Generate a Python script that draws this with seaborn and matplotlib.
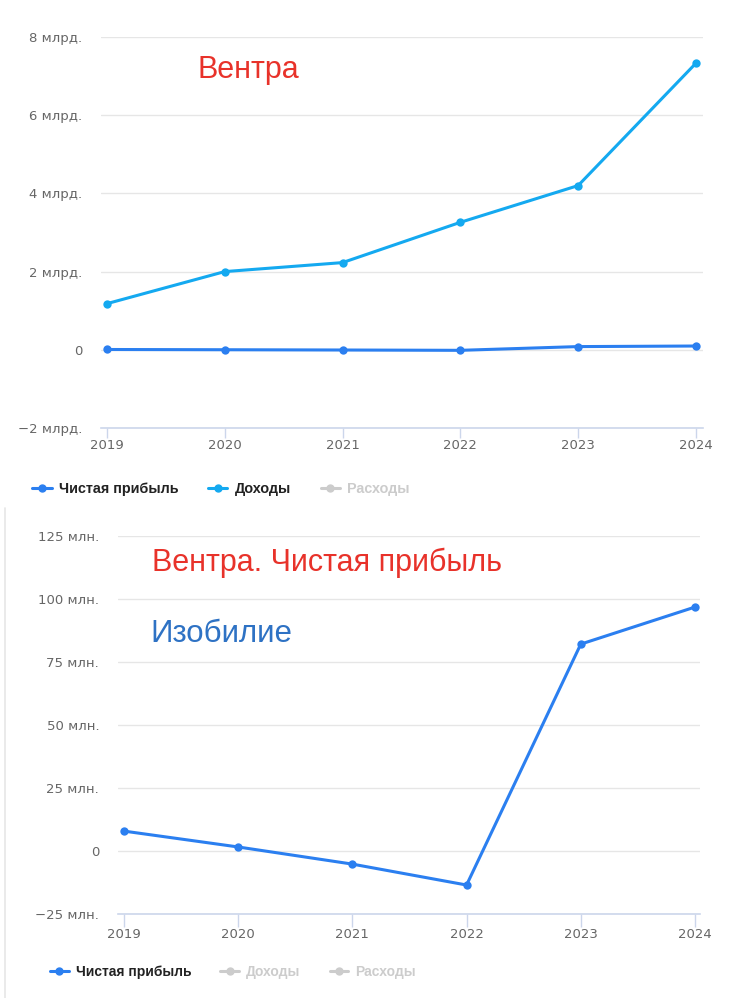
import numpy as np
import pandas as pd
import matplotlib
matplotlib.use("Agg")
import matplotlib.pyplot as plt
from matplotlib.lines import Line2D
import seaborn as sns

# data
years = [2019, 2020, 2021, 2022, 2023, 2024]
revenue_bn = [1.18, 2.00, 2.23, 3.26, 4.20, 7.33]        # Доходы, млрд
net_profit_mn = [7.9, 1.6, -5.2, -13.5, 82.1, 96.8]       # Чистая прибыль, млн
net_profit_bn = [v / 1000 for v in net_profit_mn]

top_ticks = [-2, 0, 2, 4, 6, 8]
top_labels = ["\u22122 млрд.", "0", "2 млрд.", "4 млрд.", "6 млрд.", "8 млрд."]
bot_ticks = [-25, 0, 25, 50, 75, 100, 125]
bot_labels = ["\u221225 млн.", "0", "25 млн.", "50 млн.", "75 млн.", "100 млн.", "125 млн."]

legend_names = ["Чистая прибыль", "Доходы", "Расходы"]

c_profit = "#2b7ff0"
c_rev = "#14a9f0"
c_off = "#cccccc"
c_grid = "#e6e6e6"
c_axis = "#ccd6eb"
c_tick = "#666666"

sns.set_theme(style="white")
plt.rcParams["font.family"] = ["DejaVu Sans"]

W, H = 736, 998
fig = plt.figure(figsize=(W / 100, H / 100), dpi=100)
fig.patch.set_facecolor("white")


def px_axes(l, r, t, b):
    return fig.add_axes([l / W, 1 - b / H, (r - l) / W, (b - t) / H])


def style(ax, ticks, labels, ylim, xlim, tick_len, fsize):
    ax.set_ylim(*ylim)
    ax.set_xlim(*xlim)
    ax.set_yticks(ticks)
    ax.set_yticklabels(labels)
    ax.set_xticks(years)
    ax.set_xticklabels([str(y) for y in years])
    for s in ["top", "right", "left"]:
        ax.spines[s].set_visible(False)
    ax.spines["bottom"].set_color(c_axis)
    ax.spines["bottom"].set_linewidth(1.2)
    ax.grid(axis="y", color=c_grid, linewidth=1.0)
    ax.grid(axis="x", visible=False)
    ax.tick_params(axis="y", length=0, pad=13.5, labelsize=fsize, labelcolor=c_tick)
    ax.tick_params(axis="x", length=tick_len, width=1.0, color=c_axis, pad=1,
                   labelsize=fsize, labelcolor=c_tick, bottom=True, direction="out")
    ax.set_xlabel("")
    ax.set_ylabel("")
    ax.set_facecolor("white")


def make_legend(x, y, colors, text_colors, fsize, colspace):
    handles = [Line2D([], [], color=c, lw=2.2, marker="o", ms=5) for c in colors]
    leg = fig.legend(handles, legend_names, loc="center left",
                     bbox_to_anchor=(x / W, 1 - y / H), ncol=3, frameon=False,
                     borderpad=0, borderaxespad=0, handlelength=1.35,
                     handletextpad=0.5, columnspacing=colspace,
                     prop={"weight": "bold", "size": fsize,
                           "family": "Liberation Sans"})
    for t, c in zip(leg.get_texts(), text_colors):
        t.set_color(c)
    return leg


# ---- top chart: Вентра ----
ax1 = px_axes(101, 703, 37, 428)
df_top = pd.DataFrame({"year": years, "profit": net_profit_bn, "revenue": revenue_bn})
sns.lineplot(data=df_top, x="year", y="revenue", ax=ax1, color=c_rev, lw=2.2,
             marker="o", markersize=6, markeredgewidth=0)
sns.lineplot(data=df_top, x="year", y="profit", ax=ax1, color=c_profit, lw=2.2,
             marker="o", markersize=6, markeredgewidth=0)
style(ax1, top_ticks, top_labels, (-2, 8), (2018.95, 2024.06), 7, 9.5)
make_legend(32, 489, [c_profit, c_rev, c_off], ["#222222", "#222222", c_off], 10.4, 2.05)
fig.text(197 / W, 1 - 70 / H, "Вентра", color="#e8322a", fontsize=22,
         family="Liberation Sans", ha="left", va="center")

# ---- bottom chart: Вентра. Чистая прибыль ----
ax2 = px_axes(118, 700, 536, 914)
df_bot = pd.DataFrame({"year": years, "profit": net_profit_mn})
sns.lineplot(data=df_bot, x="year", y="profit", ax=ax2, color=c_profit, lw=2.2,
             marker="o", markersize=6, markeredgewidth=0)
style(ax2, bot_ticks, bot_labels, (-25, 125), (2018.948, 2024.044), 9, 9.5)
make_legend(50, 972, [c_profit, c_off, c_off], ["#222222", c_off, c_off], 10.0, 2.1)
fig.text(152 / W, 1 - 563 / H, "Вентра. Чистая прибыль", color="#e8322a",
         fontsize=22, family="Liberation Sans", ha="left", va="center")
fig.text(150 / W, 1 - 634 / H, "Изобилие", color="#2e72c4",
         fontsize=22.5, family="Liberation Sans", ha="left", va="center")

# faint panel border of the second screenshot
fig.add_artist(Line2D([4.5 / W, 4.5 / W], [0, 1 - 508 / H], color="#e6e6e6", lw=1.2))

fig.savefig("out.png", dpi=100, facecolor="white")
